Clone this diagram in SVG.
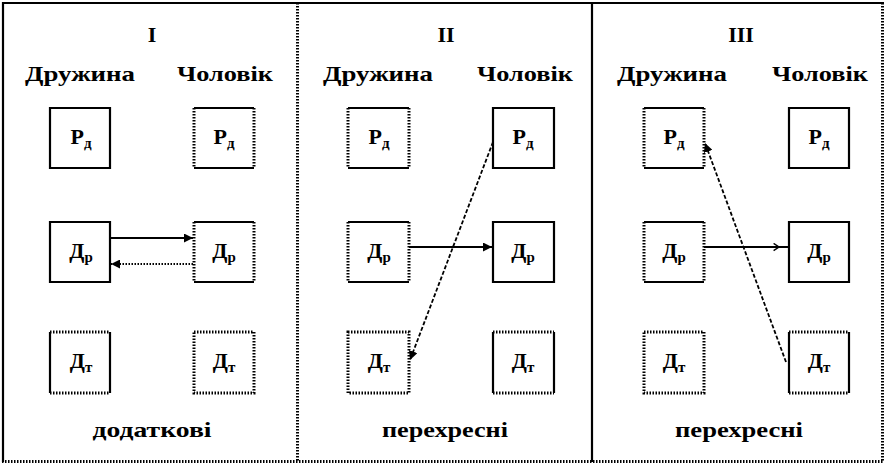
<svg xmlns="http://www.w3.org/2000/svg" width="884" height="463" viewBox="0 0 884 463">
<style>
.bg{fill:#fff}
.s{fill:none;stroke:#000;stroke-width:2.2}
.d{fill:none;stroke:#000;stroke-width:3;stroke-dasharray:1.5 1.5}
.t{font-family:"Liberation Serif","Times New Roman",serif;font-weight:bold;font-size:22px;fill:#000;text-anchor:middle}
.lb{font-family:"Liberation Serif","Times New Roman",serif;font-weight:bold;font-size:22px;fill:#000;text-anchor:middle}
.sub{font-size:15px}
.c{fill:none;stroke:#000;stroke-width:1.8}
.cd{fill:none;stroke:#000;stroke-width:1.8;stroke-dasharray:4 2}
.cp{fill:none;stroke:#000;stroke-width:2.2;stroke-dasharray:1.5 1.5}
</style>
<defs>
<marker id="ah" viewBox="0 0 10 10" refX="10" refY="5" markerWidth="9" markerHeight="9" markerUnits="userSpaceOnUse" orient="auto"><path d="M0,0 L10,5 L0,10 z" fill="#000"/></marker>
<marker id="oa" viewBox="0 0 10 10" refX="8" refY="5" markerWidth="9" markerHeight="9" markerUnits="userSpaceOnUse" orient="auto"><path d="M2,1 L8,5 L2,9" fill="none" stroke="#000" stroke-width="1.6"/></marker>
</defs>
<rect class="bg" width="884" height="463"/>

<g id="frames">
<path class="s" d="M2,3 H884 M3,2 V462 M592,2 V462"/>
<path class="d" d="M297.5,3 V462 M2,461.5 H884 M882.5,3 V462"/>
</g>

<g id="headers">
<text class="t" x="152" y="42">I</text>
<text class="t" x="446" y="42">II</text>
<text class="t" x="741" y="42">III</text>
<text class="t" x="80" y="81" textLength="110" lengthAdjust="spacingAndGlyphs">Дружина</text>
<text class="t" x="225" y="81" textLength="96" lengthAdjust="spacingAndGlyphs">Чоловік</text>
<text class="t" x="378" y="81" textLength="110" lengthAdjust="spacingAndGlyphs">Дружина</text>
<text class="t" x="525" y="81" textLength="96" lengthAdjust="spacingAndGlyphs">Чоловік</text>
<text class="t" x="672" y="81" textLength="110" lengthAdjust="spacingAndGlyphs">Дружина</text>
<text class="t" x="820" y="81" textLength="96" lengthAdjust="spacingAndGlyphs">Чоловік</text>
<text class="t" x="152" y="437" textLength="119" lengthAdjust="spacingAndGlyphs">додаткові</text>
<text class="t" x="445" y="437" textLength="126" lengthAdjust="spacingAndGlyphs">перехресні</text>
<text class="t" x="739" y="437" textLength="128" lengthAdjust="spacingAndGlyphs">перехресні</text>
</g>

<!-- Panel I -->
<g id="I-wife-P"><rect class="bg" x="50" y="108" width="60" height="60"/><path class="s" d="M50,108 H110 V168 H50 Z"/><text class="lb" x="81" y="144">Р<tspan class="sub" dy="4">д</tspan></text></g>
<g id="I-husband-P"><rect class="bg" x="194" y="108" width="60" height="60"/><path class="s" d="M194,108 H254 M194,168 H254"/><path class="d" d="M194,108 V168 M254,108 V168"/><text class="lb" x="224" y="144">Р<tspan class="sub" dy="4">д</tspan></text></g>
<g id="I-wife-A"><rect class="bg" x="50" y="222" width="60" height="60"/><path class="s" d="M50,222 H110 V282 H50 Z"/><text class="lb" x="81" y="258">Д<tspan class="sub" dy="4">р</tspan></text></g>
<g id="I-husband-A"><rect class="bg" x="194" y="222" width="60" height="60"/><path class="s" d="M194,222 H254 M194,282 H254"/><path class="d" d="M194,222 V282 M254,222 V282"/><text class="lb" x="224" y="258">Д<tspan class="sub" dy="4">р</tspan></text></g>
<g id="I-wife-C"><rect class="bg" x="50" y="332" width="60" height="61"/><path class="s" d="M50,332 V393 M110,332 V393"/><path class="d" d="M50,332 H110 M50,393 H110"/><text class="lb" x="81" y="368">Д<tspan class="sub" dy="4">т</tspan></text></g>
<g id="I-husband-C"><rect class="bg" x="194" y="332" width="60" height="61"/><path class="d" d="M194,332 H254 V393 H194 Z"/><text class="lb" x="224" y="368">Д<tspan class="sub" dy="4">т</tspan></text></g>

<!-- Panel II -->
<g id="II-wife-P"><rect class="bg" x="348" y="108" width="61" height="60"/><path class="s" d="M348,108 H409 M348,168 H409"/><path class="d" d="M348,108 V168 M409,108 V168"/><text class="lb" x="379" y="144">Р<tspan class="sub" dy="4">д</tspan></text></g>
<g id="II-husband-P"><rect class="bg" x="493" y="108" width="61" height="60"/><path class="s" d="M493,108 H554 V168 H493 Z"/><text class="lb" x="523" y="144">Р<tspan class="sub" dy="4">д</tspan></text></g>
<g id="II-wife-A"><rect class="bg" x="348" y="222" width="61" height="60"/><path class="s" d="M348,222 H409 M348,282 H409"/><path class="d" d="M348,222 V282 M409,222 V282"/><text class="lb" x="379" y="258">Д<tspan class="sub" dy="4">р</tspan></text></g>
<g id="II-husband-A"><rect class="bg" x="493" y="222" width="61" height="60"/><path class="s" d="M493,222 H554 V282 H493 Z"/><text class="lb" x="523" y="258">Д<tspan class="sub" dy="4">р</tspan></text></g>
<g id="II-wife-C"><rect class="bg" x="348" y="332" width="61" height="61"/><path class="d" d="M348,332 H409 V393 H348 Z"/><text class="lb" x="379" y="368">Д<tspan class="sub" dy="4">т</tspan></text></g>
<g id="II-husband-C"><rect class="bg" x="493" y="332" width="61" height="61"/><path class="s" d="M493,332 V393 M554,332 V393"/><path class="d" d="M493,332 H554 M493,393 H554"/><text class="lb" x="523" y="368">Д<tspan class="sub" dy="4">т</tspan></text></g>

<!-- Panel III -->
<g id="III-wife-P"><rect class="bg" x="644" y="108" width="60" height="60"/><path class="s" d="M644,108 H704 M644,168 H704"/><path class="d" d="M644,108 V168 M704,108 V168"/><text class="lb" x="674" y="144">Р<tspan class="sub" dy="4">д</tspan></text></g>
<g id="III-husband-P"><rect class="bg" x="789" y="108" width="60" height="60"/><path class="s" d="M789,108 H849 V168 H789 Z"/><text class="lb" x="819" y="144">Р<tspan class="sub" dy="4">д</tspan></text></g>
<g id="III-wife-A"><rect class="bg" x="644" y="222" width="60" height="60"/><path class="s" d="M644,222 H704 M644,282 H704"/><path class="d" d="M644,222 V282 M704,222 V282"/><text class="lb" x="674" y="258">Д<tspan class="sub" dy="4">р</tspan></text></g>
<g id="III-husband-A"><rect class="bg" x="789" y="222" width="60" height="60"/><path class="s" d="M789,222 H849 V282 H789 Z"/><text class="lb" x="819" y="258">Д<tspan class="sub" dy="4">р</tspan></text></g>
<g id="III-wife-C"><rect class="bg" x="644" y="332" width="60" height="61"/><path class="d" d="M644,332 H704 V393 H644 Z"/><text class="lb" x="674" y="368">Д<tspan class="sub" dy="4">т</tspan></text></g>
<g id="III-husband-C"><rect class="bg" x="789" y="332" width="60" height="61"/><path class="s" d="M789,332 V393 M849,332 V393"/><path class="d" d="M789,332 H849 M789,393 H849"/><text class="lb" x="819" y="368">Д<tspan class="sub" dy="4">т</tspan></text></g>

<g id="connectors">
<path class="c" d="M110,238 H193" marker-end="url(#ah)"/>
<path class="cp" d="M193,264 H111" marker-end="url(#ah)"/>
<path class="c" d="M409,247 H492" marker-end="url(#ah)"/>
<path class="cd" d="M493,142 L410,360" marker-end="url(#ah)"/>
<path class="c" d="M704,247 L779,247 L789,247" marker-mid="url(#oa)"/>
<path class="cd" d="M786,362 L705,143" marker-end="url(#ah)"/>
</g>
</svg>
